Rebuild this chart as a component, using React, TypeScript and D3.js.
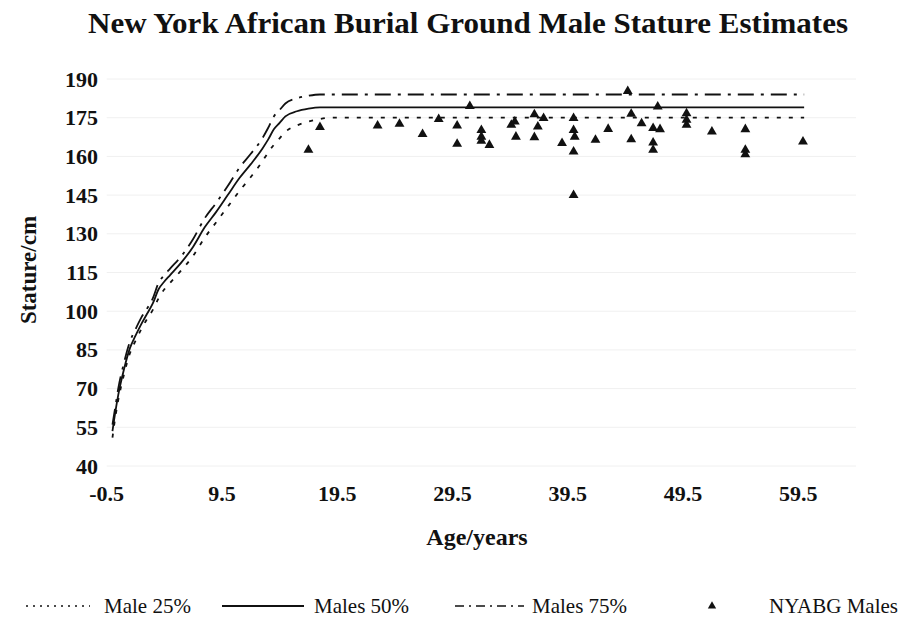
import React from "react";
import * as d3 from "d3";

// ---- data ----
const ages = [0, 0.25, 0.5, 1, 1.5, 2, 2.5, 3, 3.5, 4, 4.5, 5, 6, 7, 8, 9, 10, 11, 12, 13, 13.5, 14, 14.5, 15, 16, 17, 18, 19, 60];
const male25 = [51, 59, 65.5, 75.5, 83.5, 88.5, 93, 97, 100.5, 105, 108.5, 111, 116, 121.5, 128.5, 134.5, 140.5, 146.5, 152, 158, 161.5, 164.5, 167, 169.5, 172, 173.5, 174.5, 175, 175];
const males50 = [53.5, 61, 67.5, 77.5, 85.5, 90.5, 95, 99, 103, 108.5, 111.5, 114, 119, 125, 132.5, 138.5, 145, 151.5, 157, 163, 166.5, 170.5, 173, 175.5, 177.5, 178.5, 179, 179, 179];
const males75 = [56, 63, 70, 80, 88, 93, 97.5, 101, 105, 111, 114, 116.5, 121.5, 128, 136, 142, 148.5, 155.5, 161, 167, 171, 175.5, 178, 180.5, 182.5, 183.5, 184, 184, 184];

const nyabgAges = [17.0, 18.0, 23.0, 24.9, 26.9, 28.3, 29.9, 29.9, 31.0, 32.0, 32.0, 32.0, 32.7, 34.6, 34.9, 35.0, 36.6, 37.4, 36.9, 36.6, 39.0, 40.0, 40.0, 40.1, 40.0, 40.0, 41.9, 43.0, 44.7, 45.0, 45.0, 45.9, 47.3, 46.9, 47.5, 46.9, 46.9, 49.8, 49.8, 49.8, 52.0, 54.9, 54.9, 54.9, 59.9];
const nyabgStature = [162.5, 171.3, 171.9, 172.6, 168.6, 174.4, 171.9, 164.8, 179.5, 170.2, 167.6, 166.0, 164.4, 172.2, 173.5, 167.6, 176.3, 174.8, 171.5, 167.4, 165.1, 174.8, 170.2, 167.6, 161.8, 145.0, 166.4, 170.6, 185.3, 176.5, 166.6, 172.8, 179.3, 170.9, 170.5, 165.3, 162.5, 176.7, 174.1, 172.2, 169.6, 170.5, 162.5, 160.8, 165.7];

const xTicks = [-0.5, 9.5, 19.5, 29.5, 39.5, 49.5, 59.5];
const yTicks = [40, 55, 70, 85, 100, 115, 130, 145, 160, 175, 190];

const title = "New York African Burial Ground Male Stature Estimates";
const xTitle = "Age/years";
const yTitle = "Stature/cm";
const legendLabels = ["Male 25%", "Males 50%", "Males 75%", "NYABG Males"];

const W = 906;
const H = 628;
const FONT = "Liberation Serif, Times New Roman, Times, DejaVu Serif, serif";

export default function App() {
  const x = d3.scaleLinear().domain([-0.5, 64.5]).range([106.7, 856]);
  const y = d3.scaleLinear().domain([40, 190]).range([466, 79]);

  const mk = (vals: number[]) =>
    d3
      .line<number>()
      .x((_, i) => x(ages[i]))
      .y((v) => y(v))
      .curve(d3.curveMonotoneX)(vals) as string;

  const tri = d3.symbol().type(d3.symbolTriangle).size(42)() as string;

  const series = [
    { vals: male25, dash: "4,8", width: 1.8 },
    { vals: males50, dash: "", width: 1.8 },
    { vals: males75, dash: "16,7,3,7", width: 1.8 },
  ];

  const legendY = 606;
  const bold = { fontFamily: FONT, fontWeight: 700 } as React.CSSProperties;

  return (
    <svg width={W} height={H} style={{ display: "block", position: "absolute", left: 0, top: 0, background: "#fff" }}>
      <rect x={0} y={0} width={W} height={H} fill="#fff" />
      {yTicks.map((t) => (
        <line key={t} x1={x(-0.5)} x2={x(64.5)} y1={y(t)} y2={y(t)} stroke="#f0f0f0" strokeWidth={1} />
      ))}
      <text x={468} y={33} textAnchor="middle" style={{ ...bold, fontSize: 29 }} fill="#111" textLength={760} lengthAdjust="spacingAndGlyphs">
        {title}
      </text>
      {yTicks.map((t) => (
        <text key={t} x={98} y={y(t) + 7.5} textAnchor="end" style={{ ...bold, fontSize: 22 }} fill="#111">
          {t}
        </text>
      ))}
      {xTicks.map((t) => (
        <text key={t} x={x(t)} y={501} textAnchor="middle" style={{ ...bold, fontSize: 22 }} fill="#111">
          {t}
        </text>
      ))}
      <text x={477} y={545} textAnchor="middle" style={{ ...bold, fontSize: 24 }} fill="#111">
        {xTitle}
      </text>
      <text transform={`translate(36,270) rotate(-90)`} textAnchor="middle" style={{ ...bold, fontSize: 23 }} fill="#111">
        {yTitle}
      </text>
      {series.map((s, i) => (
        <path key={i} d={mk(s.vals)} fill="none" stroke="#111" strokeWidth={s.width} strokeDasharray={s.dash || undefined} />
      ))}
      {nyabgAges.map((a, i) => (
        <path key={i} d={tri} transform={`translate(${x(a)},${y(nyabgStature[i])})`} fill="#111" />
      ))}
      <g style={{ fontFamily: FONT, fontSize: 21 }} fill="#111">
        <line x1={26} x2={90} y1={legendY} y2={legendY} stroke="#111" strokeWidth={1.5} strokeDasharray="2,5" />
        <text x={104} y={legendY + 7}>{legendLabels[0]}</text>
        <line x1={222} x2={304} y1={legendY} y2={legendY} stroke="#111" strokeWidth={1.8} />
        <text x={314} y={legendY + 7}>{legendLabels[1]}</text>
        <line x1={455} x2={524} y1={legendY} y2={legendY} stroke="#111" strokeWidth={1.6} strokeDasharray="9,5,2,5" />
        <text x={532} y={legendY + 7}>{legendLabels[2]}</text>
        <path d={d3.symbol().type(d3.symbolTriangle).size(30)() as string} transform={`translate(712,${legendY})`} fill="#111" />
        <text x={898} y={legendY + 7} textAnchor="end">{legendLabels[3]}</text>
      </g>
    </svg>
  );
}
